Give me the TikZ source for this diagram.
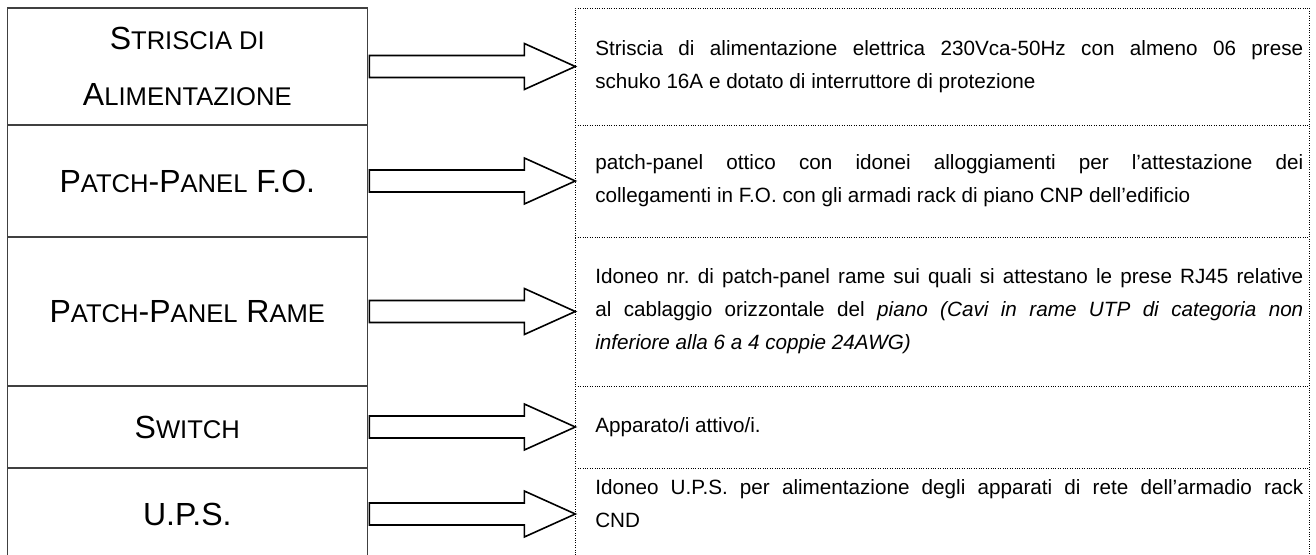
\documentclass[tikz,border=0pt]{standalone}
\usepackage{fontspec}
\setmainfont{Liberation Sans}
\usetikzlibrary{positioning, calc}
\newcommand{\descfont}{\fontsize{15.5}{24.75}\selectfont\frenchspacing\hyphenpenalty=10000\relax\tolerance=10000\relax}
\newcommand{\descindent}{\leftskip=10.5pt\relax}
\tikzset{
    x = 0.75pt, y = -0.75pt,
    cell/.style = {draw = black!75, line width = 1.1pt, minimum width = 270pt, outer sep = 0pt, inner sep = 0pt, align = center, font = \fontsize{24}{42}\selectfont},
    desc/.style = {minimum width = 550.5pt, outer sep = 0pt, inner xsep = 4.5pt, inner ysep = 0pt, text width = 541.5pt, align = justify, font = \descfont,
        execute at begin node = {\descindent}},
    grid/.style = {line width = 0.6pt, dash pattern = on 0.6pt off 1.2pt},
    fat/.style = {draw, line width = 1.2pt, fill = white}
}
\newcommand{\smallcap}[1]{{\fontsize{19.2}{42}\selectfont #1}}
\newcommand{\fatarrow}[2]{%
    \draw[fat] ($(#1.east)+(2,-11)$) -- ($(#2.west)+(-51,-11)$) -- ($(#2.west)+(-51,-23)$) -- (#2.west)
        -- ($(#2.west)+(-51,23)$) -- ($(#2.west)+(-51,11)$) -- ($(#1.east)+(2,11)$) -- cycle;%
}

\begin{document}
\begin{tikzpicture}
    \useasboundingbox (0,0) rectangle (1316,555);
    \node[cell, minimum height = 87.75pt, anchor = north west] (striscia) at (7.3,8) {S\smallcap{TRISCIA DI}\\A\smallcap{LIMENTAZIONE}};
    \node[cell, minimum height = 84pt, below = 0pt of striscia]       (patchfo)   {P\smallcap{ATCH}-P\smallcap{ANEL} F.O.};
    \node[cell, minimum height = 111.75pt, below = 0pt of patchfo]    (patchrame) {P\smallcap{ATCH}-P\smallcap{ANEL} R\smallcap{AME}};
    \node[cell, minimum height = 61.5pt, below = 0pt of patchrame]    (switch)    {S\smallcap{WITCH}};
    \node[cell, minimum height = 69pt, below = 0pt of switch]         (ups)       {U.P.S.};

    \node[desc, minimum height = 87.75pt, right = 156pt of striscia]   (strisciatxt)  {Striscia di alimentazione elettrica 230Vca-50Hz con almeno 06 prese \linebreak schuko 16A e dotato di interruttore di protezione};
    \node[desc, minimum height = 84pt, right = 156pt of patchfo]       (patchfotxt)   {patch-panel ottico con idonei alloggiamenti per l’attestazione dei \linebreak collegamenti in F.O. con gli armadi rack di piano CNP dell’edificio};
    \node[desc, minimum height = 111.75pt, right = 156pt of patchrame] (patchrametxt) {Idoneo nr. di patch-panel rame sui quali si attestano le prese RJ45 relative \linebreak al cablaggio orizzontale del \textit{piano (Cavi in rame UTP di categoria non \linebreak inferiore alla 6 a 4 coppie 24AWG)}};
    \node[desc, minimum height = 61.5pt, right = 156pt of switch]      (switchtxt)    {Apparato/i attivo/i.};
    \node[desc, minimum height = 69pt, right = 156pt of ups]           (upstxt)       {Idoneo U.P.S. per alimentazione degli apparati di rete dell’armadio rack \linebreak CND\par\kern 15pt};

    % dotted frame
    \draw[grid] (upstxt.south west) |- (strisciatxt.north east) -- (upstxt.south east);
    \foreach \row in {strisciatxt, patchfotxt, patchrametxt, switchtxt}
        \draw[grid] (\row.south west) -- (\row.south east);

    % arrows
    \fatarrow{striscia}{strisciatxt}
    \fatarrow{patchfo}{patchfotxt}
    \fatarrow{patchrame}{patchrametxt}
    \fatarrow{switch}{switchtxt}
    \fatarrow{ups}{upstxt}
\end{tikzpicture}
\end{document}
